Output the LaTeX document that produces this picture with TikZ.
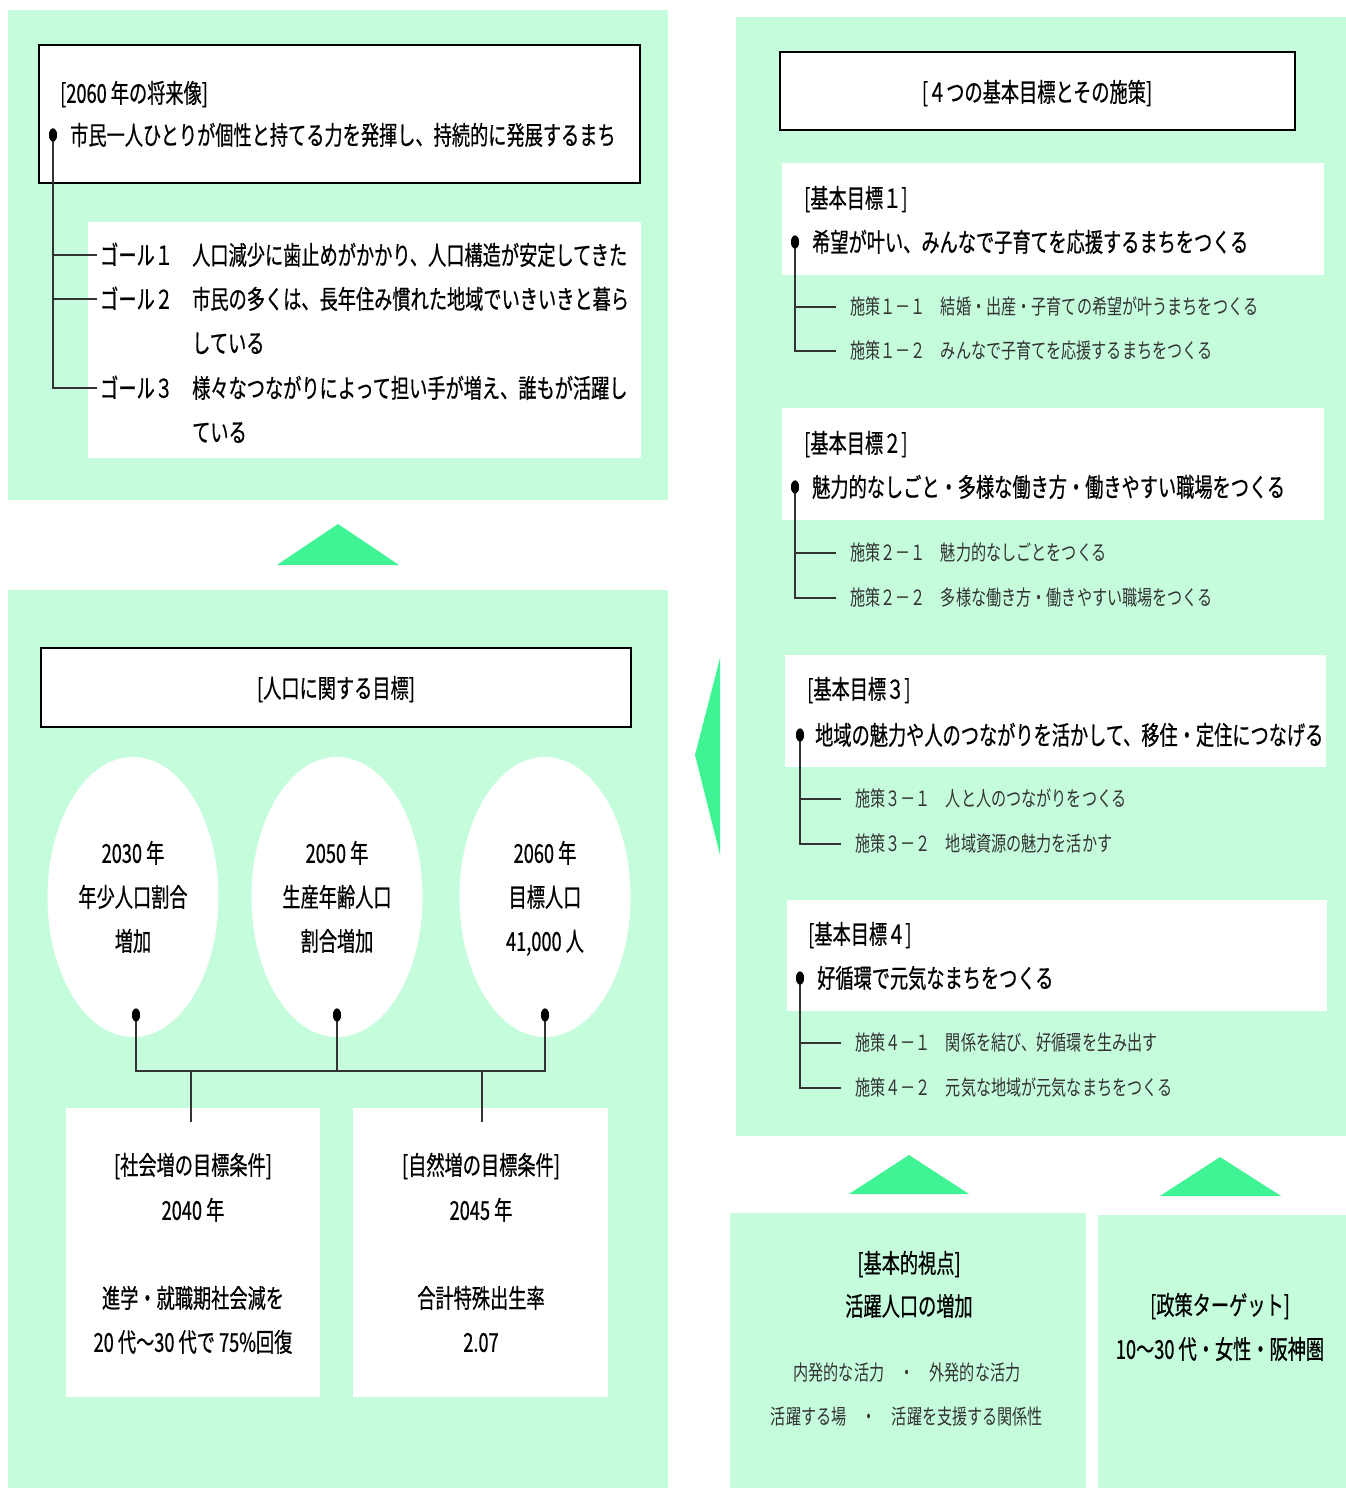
\documentclass[tikz,border=0pt]{standalone}
\usepackage{fontspec}
\usetikzlibrary{shapes.geometric}
\newfontfamily\jpfont{Noto Sans CJK JP}[FakeStretch=0.70,FakeBold=0.6]
\newfontfamily\jpsubfont{Noto Sans CJK JP}[FakeStretch=0.72]
\definecolor{panelgreen}{RGB}{196,252,220}
\definecolor{trigreen}{RGB}{64,243,148}
\definecolor{linegray}{RGB}{51,51,51}
\tikzset{
  panel/.style={fill=panelgreen,draw=none},
  whitebox/.style={fill=white,draw=none},
  titlebox/.style={fill=white,draw=black,line width=2.2pt},
  tri/.style={fill=trigreen,draw=none},
  dot/.style={ellipse,fill=black,minimum width=8pt,minimum height=13pt,inner sep=0pt},
  main/.style={inner sep=0pt,font=\jpfont\fontsize{26}{30}\selectfont,text height=22.8pt,text depth=3.2pt},
  sub/.style={inner sep=0pt,font=\jpsubfont\fontsize{21}{25}\selectfont,text height=18.4pt,text depth=2.6pt,text=black!80},
  conn/.style={draw=linegray,line width=1.4pt},
  oval/.style={ellipse,fill=white,draw=none,minimum width=171pt,minimum height=280pt,inner sep=0pt},
}
\begin{document}
\begin{tikzpicture}[x=1pt,y=-1pt]
\useasboundingbox (0,0) rectangle (1346,1488);
\fill[white] (0,0) rectangle (1346,1488);
% panels
\path[panel] (8,10) rectangle (668,500);
\path[panel] (8,590) rectangle (668,1488);
\path[panel] (736,17) rectangle (1346,1136);
\path[panel] (730,1213) rectangle (1086,1488);
\path[panel] (1098,1215) rectangle (1346,1488);
% triangles
\fill[tri] (277,565) -- (399,565) -- (338,524) -- cycle;
\fill[tri] (720,658) -- (720,855) -- (695,755) -- cycle;
\fill[tri] (849,1194) -- (969,1194) -- (909,1155) -- cycle;
\fill[tri] (1160,1196) -- (1281,1196) -- (1220,1157) -- cycle;

% ---------- top-left: 2060 vision ----------
\path[titlebox] (39,45) rectangle (640,183);
\path[whitebox] (88,222) rectangle (641,458);
\node[main,anchor=west] (visT) at (60,93) {[2060 年の将来像]};
\node[main,anchor=west] (visM) at (70,135) {市民一人ひとりが個性と持てる力を発揮し、持続的に発展するまち};
\coordinate (ga1) at (53,255); \coordinate (ga1e) at (97,255);
\coordinate (ga2) at (53,299); \coordinate (ga2e) at (97,299);
\coordinate (ga3e) at (97,388);
\node[dot] (dA) at (53,135) {};
\draw[conn] (dA.center) |- (ga3e);
\draw[conn] (ga1) -- (ga1e);
\draw[conn] (ga2) -- (ga2e);
\node[dot] at (dA) {};
\node[main,anchor=west] (g1l) at (100,255) {ゴール１};
\node[main,anchor=west] (g1t) at (192,255) {人口減少に歯止めがかかり、人口構造が安定してきた};
\node[main,anchor=west] (g2l) at (100,299) {ゴール２};
\node[main,anchor=west] (g2t) at (192,299) {市民の多くは、長年住み慣れた地域でいきいきと暮ら};
\node[main,anchor=west] (g2u) at (192,343) {している};
\node[main,anchor=west] (g3l) at (100,388) {ゴール３};
\node[main,anchor=west] (g3t) at (192,388) {様々なつながりによって担い手が増え、誰もが活躍し};
\node[main,anchor=west] (g3u) at (192,432) {ている};

% ---------- bottom-left: population goals ----------
\path[titlebox] (41,648) rectangle (631,727);
\node[main] (popT) at (336,688) {[人口に関する目標]};
\node[oval] (e1) at (133,897) {};
\node[oval] (e2) at (337,897) {};
\node[oval] (e3) at (545,897) {};
\node[main] (e1a) at (133,853) {2030 年};
\node[main] (e1b) at (133,897) {年少人口割合};
\node[main] (e1c) at (133,941) {増加};
\node[main] (e2a) at (337,853) {2050 年};
\node[main] (e2b) at (337,897) {生産年齢人口};
\node[main] (e2c) at (337,941) {割合増加};
\node[main] (e3a) at (545,853) {2060 年};
\node[main] (e3b) at (545,897) {目標人口};
\node[main] (e3c) at (545,941) {41,000 人};
\path[whitebox] (66,1108) rectangle (320,1397);
\path[whitebox] (353,1108) rectangle (608,1397);
\node[dot] (b1) at (136,1015) {};
\node[dot] (b2) at (337,1015) {};
\node[dot] (b3) at (545,1015) {};
\coordinate (j1) at (136,1071);
\coordinate (j2) at (337,1071);
\coordinate (j3) at (545,1071);
\coordinate (ja) at (191,1071); \coordinate (jae) at (191,1122);
\coordinate (jb) at (482,1071); \coordinate (jbe) at (482,1122);
\draw[conn] (b1.center) -- (j1) -- (j3) -- (b3.center);
\draw[conn] (b2.center) -- (j2);
\draw[conn] (ja) -- (jae);
\draw[conn] (jb) -- (jbe);
\node[dot] at (b1) {};
\node[dot] at (b2) {};
\node[dot] at (b3) {};
\node[main] (sA1) at (193,1165) {[社会増の目標条件]};
\node[main] (sA2) at (193,1210) {2040 年};
\node[main] (sA3) at (193,1298) {進学・就職期社会減を};
\node[main] (sA4) at (193,1342) {20 代～30 代で 75\%回復};
\node[main] (sB1) at (481,1165) {[自然増の目標条件]};
\node[main] (sB2) at (481,1210) {2045 年};
\node[main] (sB3) at (481,1298) {合計特殊出生率};
\node[main] (sB4) at (481,1342) {2.07};

% ---------- right: 4 basic goals ----------
\path[titlebox] (780,52) rectangle (1295,130);
\node[main] (rT) at (1037,92) {[４つの基本目標とその施策]};
\path[whitebox] (782,163) rectangle (1324,275);
\path[whitebox] (782,408) rectangle (1324,520);
\path[whitebox] (785,655) rectangle (1326,767);
\path[whitebox] (787,900) rectangle (1327,1011);

% goal 1
\node[main,anchor=west] (k1) at (804,198) {[基本目標１]};
\node[dot] (k1d) at (795,242) {};
\node[main,anchor=west] (k1t) at (812,242) {希望が叶い、みんなで子育てを応援するまちをつくる};
\coordinate (k1a) at (795,307); \coordinate (k1ae) at (836,307);
\coordinate (k1be) at (836,351);
\draw[conn] (k1d.center) |- (k1be);
\draw[conn] (k1a) -- (k1ae);
\node[dot] at (k1d) {};
\node[sub,anchor=west] (k1s1) at (850,307) {施策１－１　結婚・出産・子育ての希望が叶うまちをつくる};
\node[sub,anchor=west] (k1s2) at (850,351) {施策１－２　みんなで子育てを応援するまちをつくる};

% goal 2
\node[main,anchor=west] (k2) at (804,443) {[基本目標２]};
\node[dot] (k2d) at (795,487) {};
\node[main,anchor=west] (k2t) at (812,487) {魅力的なしごと・多様な働き方・働きやすい職場をつくる};
\coordinate (k2a) at (795,553); \coordinate (k2ae) at (836,553);
\coordinate (k2be) at (836,598);
\draw[conn] (k2d.center) |- (k2be);
\draw[conn] (k2a) -- (k2ae);
\node[dot] at (k2d) {};
\node[sub,anchor=west] (k2s1) at (850,553) {施策２－１　魅力的なしごとをつくる};
\node[sub,anchor=west] (k2s2) at (850,598) {施策２－２　多様な働き方・働きやすい職場をつくる};

% goal 3
\node[main,anchor=west] (k3) at (807,689) {[基本目標３]};
\node[dot] (k3d) at (800,735) {};
\node[main,anchor=west] (k3t) at (815,735) {地域の魅力や人のつながりを活かして、移住・定住につなげる};
\coordinate (k3a) at (800,799); \coordinate (k3ae) at (841,799);
\coordinate (k3be) at (841,844);
\draw[conn] (k3d.center) |- (k3be);
\draw[conn] (k3a) -- (k3ae);
\node[dot] at (k3d) {};
\node[sub,anchor=west] (k3s1) at (855,799) {施策３－１　人と人のつながりをつくる};
\node[sub,anchor=west] (k3s2) at (855,844) {施策３－２　地域資源の魅力を活かす};

% goal 4
\node[main,anchor=west] (k4) at (808,934) {[基本目標４]};
\node[dot] (k4d) at (800,978) {};
\node[main,anchor=west] (k4t) at (817,978) {好循環で元気なまちをつくる};
\coordinate (k4a) at (800,1043); \coordinate (k4ae) at (841,1043);
\coordinate (k4be) at (841,1088);
\draw[conn] (k4d.center) |- (k4be);
\draw[conn] (k4a) -- (k4ae);
\node[dot] at (k4d) {};
\node[sub,anchor=west] (k4s1) at (855,1043) {施策４－１　関係を結び、好循環を生み出す};
\node[sub,anchor=west] (k4s2) at (855,1088) {施策４－２　元気な地域が元気なまちをつくる};

% ---------- bottom-right ----------
\node[main] (v1) at (909,1263) {[基本的視点]};
\node[main] (v2) at (909,1306) {活躍人口の増加};
\node[sub] (v3) at (907,1373) {内発的な活力　・　外発的な活力};
\node[sub] (v4) at (907,1417) {活躍する場　・　活躍を支援する関係性};
\node[main] (p1) at (1220,1305) {[政策ターゲット]};
\node[main] (p2) at (1220,1349) {10～30 代・女性・阪神圏};
\end{tikzpicture}
\end{document}
